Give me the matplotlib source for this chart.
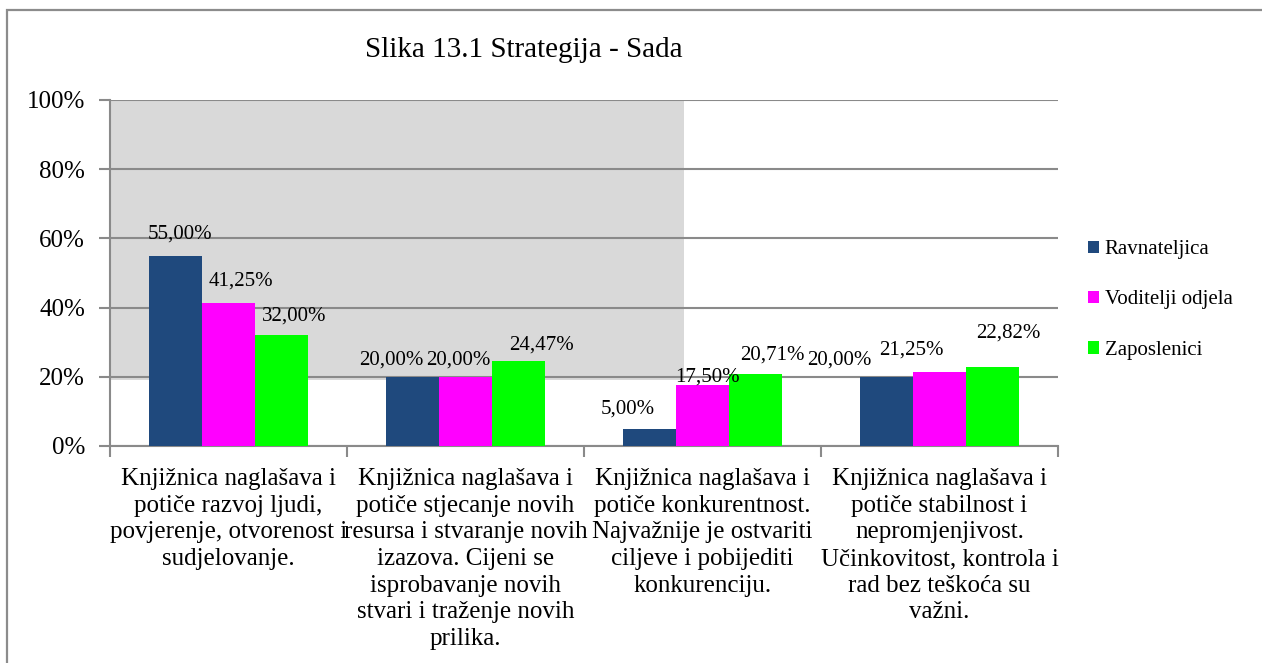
import matplotlib
matplotlib.use("Agg")
import matplotlib.pyplot as plt
from matplotlib.patches import Rectangle
import numpy as np

SERIF = ['Liberation Serif', 'DejaVu Serif']
plt.rcParams['font.family'] = SERIF
plt.rcParams['font.serif'] = ['Liberation Serif', 'DejaVu Serif']

title = "Slika 13.1 Strategija - Sada"
categories = [
    "Knjižnica naglašava i\npotiče razvoj ljudi,\npovjerenje, otvorenost i\nsudjelovanje.",
    "Knjižnica naglašava i\npotiče stjecanje novih\nresursa i stvaranje novih\nizazova. Cijeni se\nisprobavanje novih\nstvari i traženje novih\nprilika.",
    "Knjižnica naglašava i\npotiče konkurentnost.\nNajvažnije je ostvariti\nciljeve i pobijediti\nkonkurenciju.",
    "Knjižnica naglašava i\npotiče stabilnost i\nnepromjenjivost.\nUčinkovitost, kontrola i\nrad bez teškoća su\nvažni.",
]
series_names = ["Ravnateljica", "Voditelji odjela", "Zaposlenici"]
ravnateljica = [55.00, 20.00, 5.00, 20.00]
voditelji = [41.25, 20.00, 17.50, 21.25]
zaposlenici = [32.00, 24.47, 20.71, 22.82]
series_values = [ravnateljica, voditelji, zaposlenici]
colors = ["#1F497D", "#FF00FF", "#00FF00"]

# label placement offsets in pixels (style, per series/category)
label_dx = [[5, -21, -22, -47], [12, -7, 5, -28], [13, 23, 17, 16]]
label_dy = [[22, 17, 20, 17], [22, 17, 8, 22], [19, 16, 19, 34]]

W, H = 1262, 663
fig = plt.figure(figsize=(W / 100, H / 100), dpi=100)
ax = fig.add_axes([110 / W, 1 - 446 / H, (1058 - 110) / W, (446 - 100) / H])

# outer border (top and left visible)
fig.patches.append(Rectangle((7 / W, -0.2), 1.2, 1 - 10 / H + 0.2, transform=fig.transFigure,
                             fill=False, edgecolor="#8C8C8C", linewidth=1.6, zorder=0))

x = np.arange(len(categories))
bw = 0.224
grid_c = "#8A8A8A"

# grey plot background block
ax.add_patch(Rectangle((-0.5, 0.19), 2.42, 0.81, facecolor="#D9D9D9", edgecolor="none", zorder=0))

for i, (vals, name, c) in enumerate(zip(series_values, series_names, colors)):
    pos = x + (i - 1) * bw
    v = np.array(vals) / 100
    ax.bar(pos, v, width=bw, color=c, label=name, zorder=3)
    for j, (p, val) in enumerate(zip(pos, v)):
        ax.annotate(f"{vals[j]:.2f}%".replace(".", ","), xy=(p, val),
                    xytext=(label_dx[i][j], label_dy[i][j]), textcoords="offset pixels",
                    ha="center", va="center", fontsize=15, family=SERIF, zorder=5)

ax.set_xlim(-0.5, len(categories) - 0.5)
ax.set_ylim(0, 1.0)
yt = np.arange(0, 1.01, 0.2)
ax.set_yticks(yt)
ax.set_yticklabels([f"{int(round(t*100))}%" for t in yt], fontsize=18, family=SERIF)
ax.yaxis.grid(True, color=grid_c, linewidth=1.5, zorder=1)
ax.set_axisbelow(True)
ax.set_xticks(x)
ax.set_xticklabels(categories, fontsize=18, linespacing=1.27, family=SERIF)
ax.tick_params(axis="x", length=0, pad=16)
ax.set_xticks(np.arange(-0.5, len(categories), 1), minor=True)
ax.tick_params(axis="x", which="minor", length=8, color=grid_c, width=1.5)
ax.tick_params(axis="y", length=8, color=grid_c, width=1.5, pad=10)
for s in ["top", "right"]:
    ax.spines[s].set_visible(False)
for s in ["left", "bottom"]:
    ax.spines[s].set_color(grid_c)
    ax.spines[s].set_linewidth(1.5)

fig.text(524 / W, 1 - 50 / H, title, ha="center", va="center", fontsize=21, family=SERIF)

fig.legend(loc="center left", bbox_to_anchor=(1088 / W, 1 - 300 / H), frameon=False,
           prop={'family': SERIF, 'size': 15}, handlelength=0.55, handleheight=0.55,
           handletextpad=0.25, labelspacing=1.5, borderpad=0, borderaxespad=0)

fig.savefig("out.png", dpi=100)
